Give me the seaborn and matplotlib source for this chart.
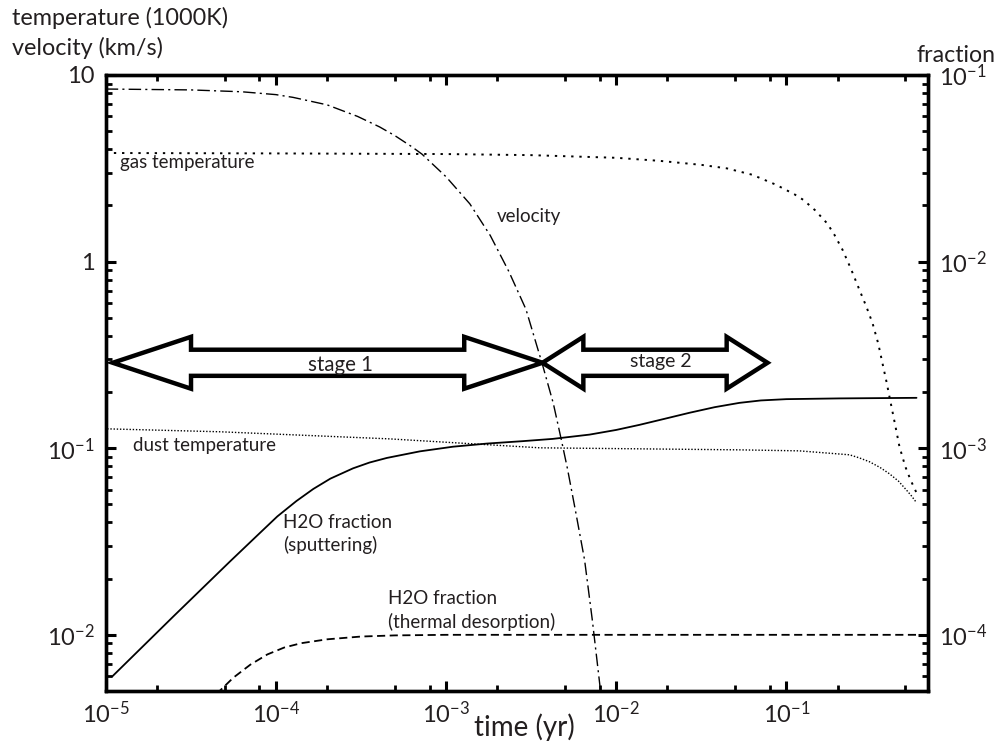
import numpy as np
import matplotlib
matplotlib.use("Agg")
import matplotlib.pyplot as plt
import seaborn as sns
from matplotlib.patches import Polygon
from matplotlib.ticker import LogLocator, FixedLocator, FixedFormatter, NullFormatter

# ---- data -------------------------------------------------------------
# velocity (km/s)
vel_t = [1.0e-5, 3.16e-5, 6.31e-5, 1.0e-4, 1.26e-4, 2.0e-4, 3.02e-4, 4.07e-4,
         5.01e-4, 6.31e-4, 7.24e-4, 1.0e-3, 1.38e-3, 1.82e-3, 2.34e-3, 2.95e-3,
         3.69e-3, 4.27e-3, 4.76e-3, 5.16e-3, 5.75e-3, 6.52e-3, 7.24e-3, 8.09e-3,
         8.22e-3]
vel_v = [8.41, 8.32, 8.13, 7.85, 7.59, 6.92, 6.0, 5.27,
         4.73, 4.12, 3.76, 2.85, 2.04, 1.38, 0.885, 0.555,
         0.280, 0.174, 0.111, 0.0785, 0.0468, 0.0252, 0.0120, 0.00501,
         0.00437]

# gas temperature (1000 K)
gas_t = [1e-5, 1e-4, 1e-3, 3.16e-3, 1e-2, 1.78e-2, 3.16e-2, 4.47e-2, 6.31e-2,
         8.71e-2, 0.112, 0.126, 0.148, 0.174, 0.191, 0.214, 0.240, 0.269,
         0.295, 0.321, 0.347, 0.367, 0.389, 0.404, 0.437, 0.462, 0.501, 0.537,
         0.582]
gas_v = [3.82, 3.80, 3.77, 3.72, 3.60, 3.47, 3.30, 3.16, 2.92,
         2.58, 2.29, 2.14, 1.88, 1.60, 1.40, 1.156, 0.912, 0.705,
         0.575, 0.468, 0.363, 0.286, 0.224, 0.188, 0.132, 0.102, 0.0794, 0.0676,
         0.0577]

# dust temperature (1000 K)
dust_t = [1.02e-5, 4.69e-5, 4.67e-4, 3.55e-3, 5.31e-2, 0.119, 0.235, 0.269,
          0.308, 0.355, 0.404, 0.457, 0.507, 0.543, 0.582]
dust_v = [0.127, 0.1225, 0.1122, 0.1005, 0.098, 0.0968, 0.0922, 0.0887,
          0.0846, 0.0789, 0.0729, 0.0665, 0.0598, 0.0556, 0.0511]

# H2O fraction from sputtering
sput_t = [1.09e-5, 2.51e-5, 5.37e-5, 7.94e-5, 1.02e-4, 1.32e-4, 1.66e-4, 2.09e-4,
          2.84e-4, 3.55e-4, 4.49e-4, 7.02e-4, 1.10e-3, 1.74e-3, 2.82e-3, 4.24e-3,
          6.98e-3, 1.0e-2, 1.37e-2, 1.91e-2, 2.70e-2, 3.80e-2, 5.30e-2, 7.08e-2,
          0.1, 0.205, 0.582]
sput_f = [5.97e-5, 1.26e-4, 2.47e-4, 3.47e-4, 4.31e-4, 5.21e-4, 6.05e-4, 6.87e-4,
          7.80e-4, 8.38e-4, 8.87e-4, 9.62e-4, 1.019e-3, 1.059e-3, 1.091e-3, 1.122e-3,
          1.183e-3, 1.253e-3, 1.334e-3, 1.435e-3, 1.549e-3, 1.660e-3, 1.750e-3, 1.803e-3,
          1.832e-3, 1.849e-3, 1.862e-3]

# H2O fraction from thermal desorption
therm_t = [4.47e-5, 5.62e-5, 7.08e-5, 8.91e-5, 1.12e-4, 1.41e-4, 2.0e-4, 3.16e-4,
           5.01e-4, 1.0e-3, 1.0e-2, 0.582]
therm_f = [4.81e-5, 5.89e-5, 6.92e-5, 7.85e-5, 8.55e-5, 9.02e-5, 9.46e-5, 9.79e-5,
           9.93e-5, 1.0e-4, 1.0e-4, 1.0e-4]

# stage arrows: (start, end) times and the level they sit on
stage_names = ["stage 1", "stage 2"]
stage_t = [(1.10e-5, 3.69e-3), (3.69e-3, 7.75e-2)]
stage_level = 0.287

# axis ticks
x_ticks = [1e-5, 1e-4, 1e-3, 1e-2, 1e-1]
x_labels = ["10$^{-5}$", "10$^{-4}$", "10$^{-3}$", "10$^{-2}$", "10$^{-1}$"]
yl_ticks = [1e-2, 1e-1, 1, 10]
yl_labels = ["10$^{-2}$", "10$^{-1}$", "1", "10"]
yr_ticks = [1e-4, 1e-3, 1e-2, 1e-1]
yr_labels = ["10$^{-4}$", "10$^{-3}$", "10$^{-2}$", "10$^{-1}$"]

# ---- style ------------------------------------------------------------
sns.set_theme(style="ticks")
FONT = "Lato"
plt.rcParams["font.family"] = [FONT, "DejaVu Sans"]
plt.rcParams["mathtext.fontset"] = "custom"
plt.rcParams["mathtext.rm"] = FONT
plt.rcParams["mathtext.default"] = "regular"
TXT = "#231f20"

fig = plt.figure(figsize=(10.03, 7.44), dpi=100)
ax = fig.add_axes([105.7 / 1003, 1 - 691 / 744, (928 - 105.7) / 1003, (691 - 75) / 744])
ax2 = ax.twinx()

ax.set_xscale("log")
ax.set_yscale("log")
ax2.set_yscale("log")
ax.set_xlim(1e-5, 0.68)
ax.set_ylim(5e-3, 10)
ax2.set_ylim(5e-5, 0.1)

# curves on the temperature / velocity axis
sns.lineplot(x=vel_t, y=vel_v, ax=ax, color="black", lw=1.0,
             linestyle=(0, (9, 3, 1.5, 3)), sort=False)
sns.lineplot(x=gas_t, y=gas_v, ax=ax, color="black", lw=1.4,
             linestyle=(0, (1.2, 3.0)), sort=False)
sns.lineplot(x=dust_t, y=dust_v, ax=ax, color="black", lw=1.0,
             linestyle=(0, (1.0, 1.3)), sort=False)

# curves on the fraction axis
sns.lineplot(x=sput_t, y=sput_f, ax=ax2, color="black", lw=1.3, sort=False)
sns.lineplot(x=therm_t, y=therm_f, ax=ax2, color="black", lw=1.3,
             linestyle=(0, (4.5, 2.5)), sort=False)


def block_arrow(axis, t0, t1, level, head_len, shaft_half, head_half):
    """Double-headed outlined block arrow, geometry given in decades."""
    a, b, c = np.log10(t0), np.log10(t1), np.log10(level)
    pts = [(a, c), (a + head_len, c + head_half), (a + head_len, c + shaft_half),
           (b - head_len, c + shaft_half), (b - head_len, c + head_half), (b, c),
           (b - head_len, c - head_half), (b - head_len, c - shaft_half),
           (a + head_len, c - shaft_half), (a + head_len, c - head_half)]
    verts = [(10 ** x, 10 ** y) for x, y in pts]
    axis.add_patch(Polygon(verts, closed=True, facecolor="white", edgecolor="black",
                           lw=3.2, joinstyle="miter", zorder=4))


block_arrow(ax, stage_t[0][0], stage_t[0][1], stage_level, 0.46, 0.07, 0.139)
block_arrow(ax, stage_t[1][0], stage_t[1][1], stage_level, 0.24, 0.07, 0.139)

# ticks
for a_ in (ax, ax2):
    for s in a_.spines.values():
        s.set_linewidth(2.4)
        s.set_color("black")
ax.xaxis.set_major_locator(FixedLocator(x_ticks))
ax.xaxis.set_major_formatter(FixedFormatter(x_labels))
ax.xaxis.set_minor_locator(LogLocator(base=10, subs=(2, 5, 8)))
ax.xaxis.set_minor_formatter(NullFormatter())
ax.yaxis.set_major_locator(FixedLocator(yl_ticks))
ax.yaxis.set_major_formatter(FixedFormatter(yl_labels))
ax.yaxis.set_minor_locator(LogLocator(base=10, subs=np.arange(2, 10)))
ax.yaxis.set_minor_formatter(NullFormatter())
ax2.yaxis.set_major_locator(FixedLocator(yr_ticks))
ax2.yaxis.set_major_formatter(FixedFormatter(yr_labels))
ax2.yaxis.set_minor_locator(LogLocator(base=10, subs=np.arange(2, 10)))
ax2.yaxis.set_minor_formatter(NullFormatter())

ax.tick_params(axis="both", which="both", direction="in", color="black",
               labelcolor=TXT, labelsize=17)
ax.tick_params(axis="x", which="both", top=True, bottom=True)
ax.tick_params(which="major", length=7, width=2.2)
ax.tick_params(which="minor", length=4, width=2.0)
ax.tick_params(axis="y", which="major", pad=8)
ax.tick_params(axis="x", which="major", pad=7)
ax2.tick_params(axis="y", which="both", direction="in", color="black",
                labelcolor=TXT, labelsize=17, pad=8)
ax2.tick_params(which="major", length=7, width=2.2)
ax2.tick_params(which="minor", length=4, width=2.0)
ax.set_xlabel("")
ax.set_ylabel("")
ax2.set_ylabel("")


# curve and stage labels
def axfrac(px, py):
    return ((px - 105.7) / 822.3, (691 - py) / 616)


lab = dict(color=TXT, fontsize=13.5, transform=ax.transAxes, zorder=5)
ax.text(*axfrac(120, 163), "gas temperature", va="center", ha="left", **lab)
ax.text(*axfrac(497, 217), "velocity", va="center", ha="left", **lab)
ax.text(*axfrac(133, 446), "dust temperature", va="center", ha="left", **lab)
ax.text(*axfrac(283, 522), "H2O fraction", va="center", ha="left", **lab)
ax.text(*axfrac(283, 545), "(sputtering)", va="center", ha="left", **lab)
ax.text(*axfrac(388, 598), "H2O fraction", va="center", ha="left", **lab)
ax.text(*axfrac(388, 622), "(thermal desorption)", va="center", ha="left", **lab)
stage_lab = dict(color=TXT, transform=ax.transAxes, zorder=6,
                 ha="center", va="center")
ax.text(*axfrac(340, 365), stage_names[0], fontsize=14.8, **stage_lab)
ax.text(*axfrac(661, 362), stage_names[1], fontsize=14.0, **stage_lab)

# axis titles
fig.text(12 / 1003, 1 - 18 / 744, "temperature (1000K)", color=TXT, fontsize=16.8,
         ha="left", va="center")
fig.text(12 / 1003, 1 - 48 / 744, "velocity (km/s)", color=TXT, fontsize=16.8,
         ha="left", va="center")
fig.text(956 / 1003, 1 - 55 / 744, "fraction", color=TXT, fontsize=16.7,
         ha="center", va="center")
fig.text(524 / 1003, 1 - 727 / 744, "time (yr)", color=TXT, fontsize=20,
         ha="center", va="center")

fig.savefig("out.png", dpi=100, facecolor="white")
